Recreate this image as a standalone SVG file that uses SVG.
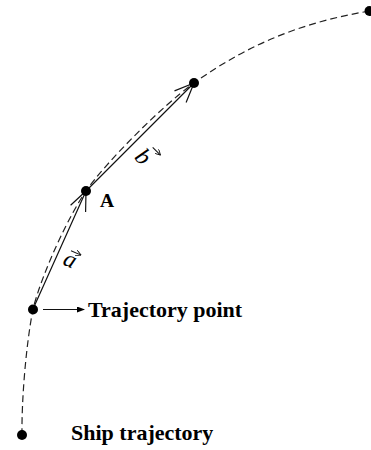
<svg xmlns="http://www.w3.org/2000/svg" width="371" height="450" viewBox="0 0 371 450">
<style>
.traj{fill:none;stroke:#222;stroke-width:1.2;stroke-dasharray:7 4}
.vec{fill:none;stroke:#111;stroke-width:1.2}
.dot{fill:#000}
.lbl{font-family:"Liberation Serif","Times New Roman",serif;font-weight:bold;fill:#000}
.var{font-family:"Liberation Serif","Times New Roman",serif;font-style:italic;fill:#000;font-size:24px}
.small{fill:none;stroke:#111;stroke-width:1}
</style>
<defs>
<marker id="tri" markerWidth="8" markerHeight="6" refX="7" refY="3" orient="auto" markerUnits="userSpaceOnUse">
<path d="M0,0 L8,3 L0,6 Z" fill="#000"/>
</marker>
<marker id="tiny" markerWidth="6" markerHeight="6" refX="5.5" refY="3" orient="auto" markerUnits="userSpaceOnUse">
<path d="M0,0 L5.5,3 L0,6" fill="none" stroke="#111" stroke-width="0.9"/>
</marker>
</defs>
<g id="connectors">
<path id="trajectory" class="traj" d="M22,435 C21.5,400 26,345 33,309 C43,270 70,214 86,191 C106,162.3 161.6,106.2 194,83 C254,40 310,21 369.5,11"/>
<path id="vec-a" class="vec" d="M33,309 L86,191 M85.6,212 L86,191 L70.6,205.3"/>
<path id="vec-b" class="vec" d="M86,191 L194,83 M186.1,102.5 L194,83 L174.5,90.9"/>
<path id="label-arrow" class="vec" d="M43,309.5 L84,309.5" marker-end="url(#tri)"/>
</g>
<g id="node-start"><circle class="dot" cx="22" cy="435" r="5"/></g>
<g id="node-trajectory-point"><circle class="dot" cx="33" cy="309.5" r="5"/></g>
<g id="node-A"><circle class="dot" cx="86" cy="191" r="5"/></g>
<g id="node-B"><circle class="dot" cx="194" cy="83" r="5"/></g>
<g id="node-end"><circle class="dot" cx="369.5" cy="11" r="5"/></g>
<g id="label-A"><text class="lbl" x="100" y="207.3" font-size="19.5">A</text></g>
<g id="label-a" transform="translate(69.5,261.5) rotate(24)">
<text class="var" x="0" y="5.5" text-anchor="middle">a</text>
<path class="small" d="M-3,-10.5 L8,-10.5" marker-end="url(#tiny)"/>
</g>
<g id="label-b" transform="translate(143.5,156.5) rotate(45)">
<text class="var" x="0" y="8" text-anchor="middle">b</text>
<path class="small" d="M0,-13 L11,-13" marker-end="url(#tiny)"/>
</g>
<g id="label-trajectory-point"><text class="lbl" x="88" y="317" font-size="22">Trajectory point</text></g>
<g id="label-ship-trajectory"><text class="lbl" x="71" y="439.5" font-size="22">Ship trajectory</text></g>
</svg>
